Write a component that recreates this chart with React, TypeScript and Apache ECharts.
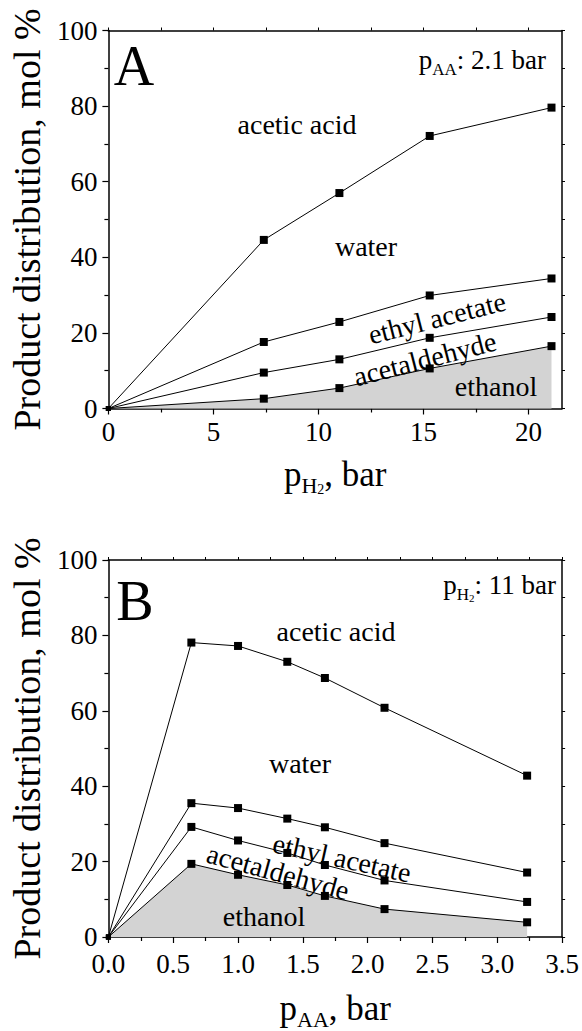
import React, { useEffect, useRef } from "react";
import * as echarts from "echarts";

// ---- Panel A: p(AA) = 2.1 bar, varying p(H2) ----
const pH2 = [0, 7.4, 11.0, 15.3, 21.1];
// cumulative boundaries (mol %), from bottom to top
const A_ethanol = [0, 2.6, 5.4, 10.6, 16.5];
const A_acetaldehyde = [0, 9.5, 13.0, 18.7, 24.2];
const A_ethylAcetate = [0, 17.6, 22.9, 29.9, 34.4];
const A_water = [0, 44.6, 57.0, 72.1, 79.6];

// ---- Panel B: p(H2) = 11 bar, varying p(AA) ----
const pAA = [0, 0.64, 1.0, 1.38, 1.67, 2.13, 3.23];
const B_ethanol = [0, 19.4, 16.5, 13.8, 10.9, 7.4, 3.9];
const B_acetaldehyde = [0, 29.2, 25.6, 22.3, 19.1, 15.0, 9.3];
const B_ethylAcetate = [0, 35.5, 34.2, 31.4, 29.1, 24.9, 17.1];
const B_water = [0, 78.1, 77.2, 73.0, 68.7, 60.8, 42.8];

// axis ticks
const yTicks = { min: 0, max: 100, interval: 20 };
const xA = { min: 0, max: 21.6, interval: 5 };
const xB = { min: 0, max: 3.5, interval: 0.5 };
const xTicksA = [0, 5, 10, 15, 20];
const xMinorTicksA = [2.5, 7.5, 12.5, 17.5];
const xAllTicksA = [0, 2.5, 5, 7.5, 10, 12.5, 15, 17.5, 20];

const FONT = "'Liberation Serif', 'Times New Roman', Times, serif";

const pairs = (xs: number[], ys: number[]) => xs.map((x, i) => [x, ys[i]]);

const LINE = { color: "#000", width: 1.5 };
const TICK = { color: "#000", width: 1.2 };

function mainX(
  grid: number,
  ext: any,
  name: string,
  gap: number,
  labelMargin: number,
  fmt?: (v: number) => string,
  ticks?: number[]
) {
  const ax: any = {
    type: "value",
    gridIndex: grid,
    position: "bottom",
    min: ext.min,
    max: ext.max,
    interval: ext.interval,
    axisLine: { show: true, onZero: false, lineStyle: LINE },
    axisTick: { show: true, inside: false, length: 6, lineStyle: TICK },
    minorTick: { show: !ticks, splitNumber: 2, length: 4, lineStyle: TICK },
    splitLine: { show: false },
    axisLabel: {
      show: true,
      fontFamily: FONT,
      fontSize: 27,
      color: "#000",
      margin: labelMargin,
      showMaxLabel: ext.max % ext.interval === 0 ? true : false,
      formatter: fmt,
    },
    name,
    nameLocation: "middle",
    nameGap: gap,
    nameTextStyle: {
      fontFamily: FONT,
      color: "#000",
      rich: {
        m: { fontFamily: FONT, fontSize: 35, lineHeight: 44, color: "#000" },
        s: { fontFamily: FONT, fontSize: 22, lineHeight: 16, verticalAlign: "bottom", color: "#000" },
        ss: { fontFamily: FONT, fontSize: 14, lineHeight: 2, verticalAlign: "bottom", color: "#000" },
      },
    },
  };
  if (ticks) ax.axisTick.customValues = ticks;
  return ax;
}

function minorOverlayX(grid: number, ext: any, ticks: number[]) {
  return {
    type: "value",
    gridIndex: grid,
    position: "bottom",
    min: ext.min,
    max: ext.max,
    interval: ext.interval,
    axisLine: { show: false, onZero: false },
    axisTick: { show: true, inside: false, length: 4, lineStyle: TICK, customValues: ticks },
    minorTick: { show: false },
    splitLine: { show: false },
    axisLabel: { show: false },
  };
}

function mirrorX(grid: number, ext: any, ticks?: number[]) {
  const ax: any = {
    type: "value",
    gridIndex: grid,
    position: "top",
    min: ext.min,
    max: ext.max,
    interval: ext.interval,
    axisLine: { show: true, onZero: false, lineStyle: LINE },
    axisTick: { show: true, inside: false, length: 3, lineStyle: { color: "#000", width: 1 } },
    minorTick: { show: !ticks, splitNumber: 2, length: 3, lineStyle: { color: "#000", width: 1 } },
    splitLine: { show: false },
    axisLabel: { show: false },
  };
  if (ticks) ax.axisTick.customValues = ticks;
  return ax;
}

function mainY(grid: number) {
  return {
    type: "value",
    gridIndex: grid,
    position: "left",
    min: yTicks.min,
    max: yTicks.max,
    interval: yTicks.interval,
    axisLine: { show: true, onZero: false, lineStyle: LINE },
    axisTick: { show: true, inside: false, length: 6, lineStyle: TICK },
    minorTick: { show: true, splitNumber: 2, length: 4, lineStyle: TICK },
    splitLine: { show: false },
    axisLabel: { show: true, fontFamily: FONT, fontSize: 27, color: "#000", margin: 11 },
    name: "Product distribution, mol %",
    nameLocation: "middle",
    nameRotate: 90,
    nameGap: 60,
    nameTextStyle: { fontFamily: FONT, fontSize: 38, color: "#000" },
  };
}

function mirrorY(grid: number) {
  return {
    type: "value",
    gridIndex: grid,
    position: "right",
    min: yTicks.min,
    max: yTicks.max,
    interval: yTicks.interval,
    axisLine: { show: true, onZero: false, lineStyle: LINE },
    axisTick: { show: true, inside: false, length: 3, lineStyle: { color: "#000", width: 1 } },
    minorTick: { show: true, splitNumber: 2, length: 3, lineStyle: { color: "#000", width: 1 } },
    splitLine: { show: false },
    axisLabel: { show: false },
  };
}

function lineSeries(name: string, xs: number[], ys: number[], xi: number, yi: number, fill: boolean) {
  const s: any = {
    name,
    type: "line",
    xAxisIndex: xi,
    yAxisIndex: yi,
    data: pairs(xs, ys),
    symbol: "rect",
    symbolSize: (v: number[]) => (v[0] === 0 ? 5 : 8),
    showSymbol: true,
    lineStyle: { color: "#000", width: 1 },
    itemStyle: { color: "#000" },
    silent: true,
    z: 3,
  };
  if (fill) {
    s.areaStyle = { color: "#d3d3d3", opacity: 1 };
    s.z = 2;
  }
  return s;
}

function label(text: string, x: number, y: number, rotDeg = 0, size = 28) {
  return {
    type: "text",
    x,
    y,
    rotation: (rotDeg * Math.PI) / 180,
    z: 10,
    style: {
      text,
      fontFamily: FONT,
      fontSize: size,
      fill: "#000",
      align: "center",
      verticalAlign: "middle",
    },
  };
}

function richLabel(text: string, x: number, y: number) {
  return {
    type: "text",
    x,
    y,
    z: 10,
    style: {
      text,
      fontFamily: FONT,
      fill: "#000",
      align: "right",
      verticalAlign: "middle",
      rich: {
        m: { fontFamily: FONT, fontSize: 27, lineHeight: 36, fill: "#000" },
        s: { fontFamily: FONT, fontSize: 17, lineHeight: 20, verticalAlign: "bottom", fill: "#000" },
        ss: { fontFamily: FONT, fontSize: 11, lineHeight: 6, verticalAlign: "bottom", fill: "#000" },
      },
    },
  };
}

export default function App() {
  const ref = useRef<HTMLDivElement>(null);
  useEffect(() => {
    if (!ref.current) return;
    const chart = echarts.init(ref.current, undefined, { renderer: "svg" });
    const option: any = {
      animation: false,
      backgroundColor: "#fff",
      textStyle: { fontFamily: FONT },
      grid: [
        { left: 107, top: 30.5, width: 455, height: 378, containLabel: false },
        { left: 107, top: 560, width: 455.5, height: 377.7, containLabel: false },
      ],
      xAxis: [
        mainX(0, xA, "{m|p}{s|H}{ss|2}{m|, bar}", 44, 10, undefined, xTicksA),
        mirrorX(0, xA, xAllTicksA),
        mainX(1, xB, "{m|p}{s|AA}{m|, bar}", 49, 13, (v: number) => v.toFixed(1)),
        mirrorX(1, xB),
        minorOverlayX(0, xA, xMinorTicksA),
      ],
      yAxis: [mainY(0), mirrorY(0), mainY(1), mirrorY(1)],
      series: [
        lineSeries("ethanol", pH2, A_ethanol, 0, 0, true),
        lineSeries("acetaldehyde", pH2, A_acetaldehyde, 0, 0, false),
        lineSeries("ethyl acetate", pH2, A_ethylAcetate, 0, 0, false),
        lineSeries("water", pH2, A_water, 0, 0, false),
        lineSeries("ethanol B", pAA, B_ethanol, 2, 2, true),
        lineSeries("acetaldehyde B", pAA, B_acetaldehyde, 2, 2, false),
        lineSeries("ethyl acetate B", pAA, B_ethylAcetate, 2, 2, false),
        lineSeries("water B", pAA, B_water, 2, 2, false),
      ],
      graphic: {
        elements: [
          label("A", 134, 66, 0, 56),
          richLabel("{m|p}{s|AA}{m|: 2.1 bar}", 546, 60),
          label("acetic acid", 297, 124),
          label("water", 366, 246),
          label("ethyl acetate", 437, 318, 14.3),
          label("acetaldehyde", 425, 359, 14.4),
          label("ethanol", 496, 386),
          label("B", 135, 601, 0, 56),
          richLabel("{m|p}{s|H}{ss|2}{m|: 11 bar}", 556, 585),
          label("acetic acid", 336, 631),
          label("water", 300, 763),
          label("ethyl acetate", 342, 858, -12.6),
          label("acetaldehyde", 278, 872, -15.3),
          label("ethanol", 264, 916),
        ],
      },
    };
    chart.setOption(option);
    return () => chart.dispose();
  }, []);
  return (
    <div
      ref={ref}
      style={{ position: "absolute", left: 0, top: 0, width: 582, height: 1031, background: "#fff" }}
    />
  );
}
